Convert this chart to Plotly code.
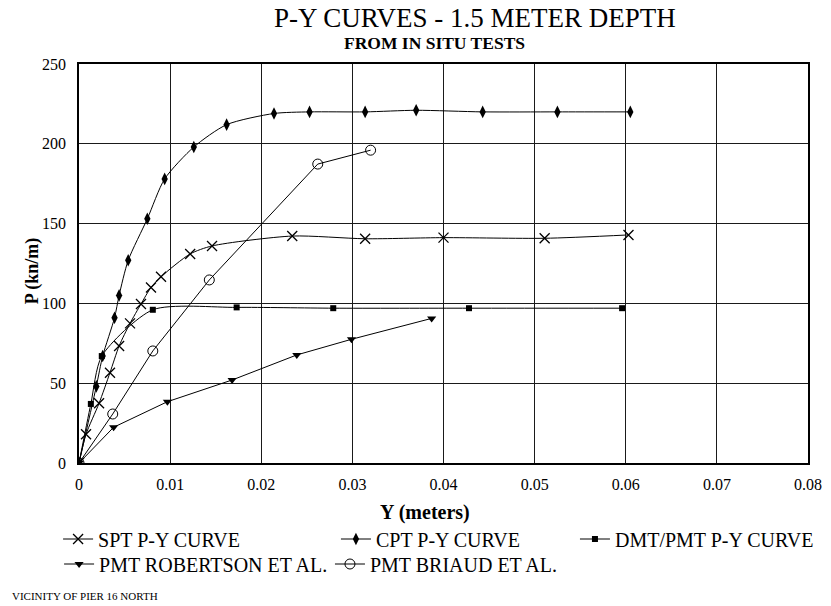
import plotly.graph_objects as go

# P-Y curves at 1.5 m depth, Y in meters, P in kN/m
spt_y = [0, 0.00077, 0.0022, 0.0034, 0.0044, 0.0056, 0.0068, 0.0079, 0.009, 0.0122, 0.0146, 0.0234, 0.0314, 0.040, 0.0511, 0.0603]
spt_p = [0, 18, 37.4, 56.6, 73.3, 87.5, 99.6, 110, 116.7, 131, 136, 142.2, 140.5, 141.2, 140.8, 142.9]

cpt_y = [0, 0.0019, 0.0026, 0.0039, 0.0044, 0.0054, 0.0075, 0.0094, 0.0126, 0.0162, 0.0214, 0.0253, 0.0314, 0.0370, 0.0443, 0.0525, 0.0605]
cpt_p = [0, 48, 67, 91, 105, 127, 153, 178, 198, 212, 219, 220, 220, 221, 220, 220, 220]

dmt_y = [0, 0.0013, 0.0025, 0.0081, 0.0173, 0.0279, 0.0428, 0.0596]
dmt_p = [0, 37, 67, 96, 97.5, 97, 97, 97]

rob_y = [0, 0.0038, 0.0097, 0.0168, 0.0239, 0.0299, 0.0387]
rob_p = [0, 22.4, 38.4, 52, 67.7, 77.5, 90.6]

bri_y = [0, 0.0037, 0.0081, 0.0143, 0.0262, 0.0320]
bri_p = [0, 30.7, 70.2, 114.7, 187.3, 196]

x_ticks = [0, 0.01, 0.02, 0.03, 0.04, 0.05, 0.06, 0.07, 0.08]
x_tick_text = ["0", "0.01", "0.02", "0.03", "0.04", "0.05", "0.06", "0.07", "0.08"]
y_ticks = [0, 50, 100, 150, 200, 250]
y_tick_text = ["0", "50", "100", "150", "200", "250"]

SERIF = "Times New Roman, Liberation Serif, serif"
W, H = 831, 606
L, R, T, B = 79, 20, 64, 143
PW, PH = W - L - R, H - T - B


def px_x(px):
    return (px - L) / PW


def px_y(py):
    return (H - B - py) / PH


fig = go.Figure()

series = [
    ("SPT P-Y CURVE", spt_y, spt_p, dict(symbol="x-thin", size=10, line=dict(width=1.3, color="black")), "spline", "legend"),
    ("CPT P-Y CURVE", cpt_y, cpt_p, dict(symbol="diamond-tall", size=9, color="black"), "spline", "legend2"),
    ("DMT/PMT P-Y CURVE", dmt_y, dmt_p, dict(symbol="square", size=6, color="black"), "spline", "legend3"),
    ("PMT ROBERTSON ET AL.", rob_y, rob_p, dict(symbol="triangle-down", size=8, color="black"), "linear", "legend4"),
    ("PMT BRIAUD ET AL.", bri_y, bri_p, dict(symbol="circle-open", size=10, color="black", line=dict(width=1)), "linear", "legend5"),
]

for name, xs, ys, mk, shape, leg in series:
    fig.add_trace(go.Scatter(
        x=xs, y=ys, name=name, mode="lines+markers",
        line=dict(color="black", width=1, shape=shape, smoothing=0.7 if shape == "spline" else None),
        marker=mk, legend=leg,
    ))

leg_font = dict(family=SERIF, size=20, color="black")
legend_pos = {
    "legend": (58, 539),
    "legend2": (337, 539),
    "legend3": (577, 539),
    "legend4": (59, 564),
    "legend5": (331, 564),
}
legend_layout = {}
for key, (lx, ly) in legend_pos.items():
    legend_layout[key] = dict(
        x=px_x(lx), y=px_y(ly), xanchor="left", yanchor="middle",
        font=leg_font, bgcolor="rgba(0,0,0,0)", borderwidth=0,
    )

fig.update_layout(
    template="none",
    width=W, height=H,
    margin=dict(l=L, r=R, t=T, b=B),
    paper_bgcolor="white", plot_bgcolor="white",
    showlegend=True,
    font=dict(family=SERIF, size=16, color="black"),
    **legend_layout,
)

fig.update_xaxes(
    range=[0, 0.08], tickmode="array", tickvals=x_ticks, ticktext=x_tick_text,
    showgrid=True, gridcolor="#1a1a1a", gridwidth=1,
    showline=True, linecolor="black", linewidth=1.5, mirror=True,
    zeroline=False, ticks="", ticklabelstandoff=6,
    tickfont=dict(family=SERIF, size=16, color="black"),
)
fig.update_yaxes(
    range=[0, 250], tickmode="array", tickvals=y_ticks, ticktext=y_tick_text,
    showgrid=True, gridcolor="#1a1a1a", gridwidth=1,
    showline=True, linecolor="black", linewidth=1.5, mirror=True,
    zeroline=False, ticks="", ticklabelstandoff=8,
    tickfont=dict(family=SERIF, size=16, color="black"),
)

fig.add_annotation(text="P-Y CURVES - 1.5 METER DEPTH", x=px_x(477), y=px_y(18),
                   xref="paper", yref="paper", showarrow=False, xanchor="center", yanchor="middle",
                   font=dict(family=SERIF, size=27, color="black"))
fig.add_annotation(text="<b>FROM IN SITU TESTS</b>", x=px_x(436), y=px_y(42.5),
                   xref="paper", yref="paper", showarrow=False, xanchor="center", yanchor="middle",
                   font=dict(family=SERIF, size=17.5, color="black"))
fig.add_annotation(text="<b>Y (meters)</b>", x=px_x(426), y=px_y(512),
                   xref="paper", yref="paper", showarrow=False, xanchor="center", yanchor="middle",
                   font=dict(family=SERIF, size=20, color="black"))
fig.add_annotation(text="<b>P (kn/m)</b>", x=px_x(32), y=px_y(271), textangle=-90,
                   xref="paper", yref="paper", showarrow=False, xanchor="center", yanchor="middle",
                   font=dict(family=SERIF, size=18, color="black"))
fig.add_annotation(text="VICINITY OF PIER 16 NORTH", x=px_x(10), y=px_y(596),
                   xref="paper", yref="paper", showarrow=False, xanchor="left", yanchor="middle",
                   font=dict(family=SERIF, size=11, color="black"))

fig.write_html("out.html")
